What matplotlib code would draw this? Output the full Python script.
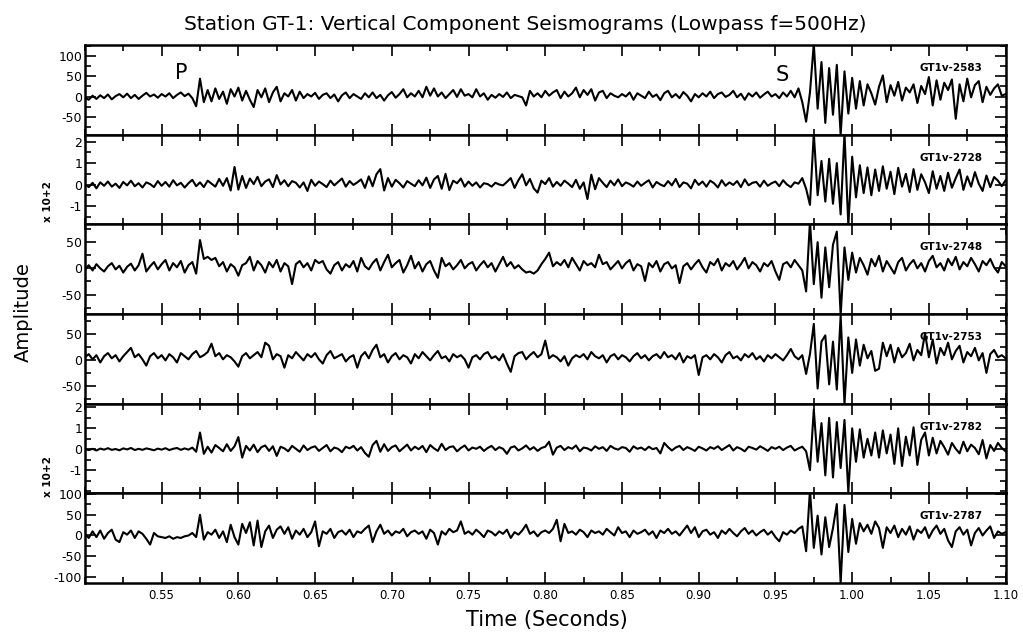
import numpy as np
import matplotlib.pyplot as plt
from matplotlib.ticker import MultipleLocator

# vertical component traces, sampled every 2.5 ms starting at 0.50 s (counts)
t_start = 0.50
dt = 0.0025

gt1v_2583 = [
    -3, -8, 2, -6, 3, -4, 5, -7, 1, 6, -2, 7, -4, 4, -6, 2, 9, 0, 5, -3,
    6, 0, 8, -4, 4, 10, 1, 7, -4, -24, 44, -14, 16, -12, 20, -6, 12, -18, 18, 0,
    22, -10, 14, -8, -26, 16, -2, 20, -14, 10, 24, -12, 8, 0, 16, -10, 12, -4, 6, 0,
    9, -6, 4, 8, -4, 5, -12, 3, 10, -4, 6, 0, -6, 8, -2, 10, -4, 4, -10, 3,
    11, -3, 6, 18, -2, 8, 0, 14, -2, 24, 2, 20, 0, 10, -4, 6, 16, -1, 18, 2,
    6, -2, 18, 0, 8, -8, 4, -3, 6, -1, 10, -4, 4, 1, -2, -22, 14, 0, 8, -2,
    14, 2, 10, 16, -4, 12, 0, 8, 22, -2, 16, 4, 18, -10, 10, 14, -4, 8, 2, -2,
    6, 0, 10, -8, 8, 2, -4, 12, -1, 5, -9, 8, 14, -2, 6, -4, 11, 2, -12, 6,
    -2, 8, 0, 12, -4, 6, 10, -1, 4, 14, -2, 7, -8, 8, 0, 10, -3, 5, 12, 0,
    6, -4, 10, 0, 14, -2, 20, -14, -62, 10, 130, -30, 85, -65, 70, -45, 78, -95, 62, -42,
    46, -30, 38, -22, 30, 8, -20, 24, 52, -14, 28, 2, 36, -10, 22, 10, 30, -16, 26, 6,
    48, -22, 40, -8, 34, 16, 42, -55, 30, -12, 44, -2, 28, 38, -14, 24, 4, 20, 30, 2,
    6,
]

gt1v_2728 = [
    0, -12, 8, -18, 10, -6, 14, -10, 4, -16, 12, -4, 18, -8, 6, -14, 10, 2, -12, 16,
    -6, 12, -10, 20, -4, 8, -14, 6, 22, -8, 10, -12, 18, 4, -10, 26, -6, 30, -28, 82,
    -24, 40, -16, 28, 2, 36, -8, 14, 24, -12, 44, 0, 20, -8, 16, 8, -14, 10, -30, 22,
    -6, 14, 2, -12, 18, -4, 12, 28, -10, 16, -2, 10, 24, -16, 38, -8, 48, 72, -28, 30,
    -10, 22, 6, -14, 16, 4, -8, 20, -4, 32, -16, 24, 40, -20, 50, -26, 18, 6, 28, -10,
    14, -6, 10, -14, 6, 2, -10, 8, 0, -4, 12, 30, -16, 20, 48, -4, 26, -18, -38, 18,
    2, 30, -10, 12, -6, 18, 4, -12, 22, -20, 10, -68, 46, -22, 30, 8, -12, 18, -4, 24,
    -8, 10, 2, -10, 14, -6, 8, 20, -14, 12, 0, -8, 16, -4, 26, -12, 10, 4, -18, 22,
    -2, 14, -10, 18, 6, -14, 20, -6, 10, -2, 16, -12, 24, -4, 8, 12, -10, 18, -6, 6,
    14, -8, 20, 0, -12, 10, 4, 30, -20, -95, 240, -50, 110, -80, 120, -90, 100, -140, 240, -190,
    130, -60, 90, -40, 80, -50, 70, -30, 85, -20, 60, -45, 78, -10, 50, -35, 72, -25, 48, 10,
    -40, 62, -20, 40, -30, 55, -15, 30, 70, -25, 38, -10, 58, 4, -30, 42, -12, 35, 18, -8,
    20,
]

gt1v_2748 = [
    -2, 6, -4, 8, 0, -6, 4, 10, -2, 5, -8, 3, 9, -4, 6, 28, -6, 4, 12, -2,
    8, 16, -4, 10, 2, 14, -8, 6, 12, -10, 54, 18, 22, 16, 20, 4, 12, -6, 8, 2,
    -14, 6, 10, 22, -4, 14, 6, -8, 12, 2, 16, -6, 10, 4, -30, 8, 14, 2, 10, -4,
    16, 10, 14, -2, -10, 6, 12, -4, 8, 2, 14, -6, 20, 4, -2, 10, 18, -4, 12, 26,
    2, 10, 16, -8, 6, 24, 0, 12, -6, 8, 14, -4, -18, 20, 4, 10, -2, 6, 16, 0,
    8, 12, -4, 6, 14, 2, 10, -6, 8, 22, 4, 12, 0, 6, -2, -8, -6, -10, -4, 8,
    18, 30, 4, 12, 6, 16, 2, 20, 8, -4, 14, 6, 10, 2, 26, 8, 12, -2, 6, 14,
    0, 10, 16, -4, 8, 4, -24, 10, 2, 14, -6, 8, 12, 0, 6, -28, 4, 10, -2, 8,
    16, 2, -8, 12, 6, 18, -4, 10, 4, 14, -2, 8, 20, 0, 12, 6, -6, 10, 4, 14,
    -6, -22, 8, 12, 2, 16, 6, -4, -44, 90, -30, 50, -56, 40, -36, 45, 70, -90, 40, -22,
    30, -8, 20, 6, -12, 18, 4, 24, -6, 14, 2, -10, 12, 20, -4, 8, 16, 0, 10, -6,
    14, 24, 2, 10, -4, 18, 6, 22, -2, 12, 4, 20, 8, -6, 14, 6, 18, 2, -8, 12,
    4,
]

gt1v_2753 = [
    6, 12, 2, 10, -4, 8, 14, 4, 10, -2, 8, 16, 24, 6, 12, 2, -10, 8, 14, 4,
    10, 0, 12, 6, -4, 14, 8, 2, 12, 18, 6, 10, 16, 32, 8, 14, 2, 10, 6, -2,
    -12, 8, 14, 4, 10, 16, 6, 34, 28, 2, 12, 8, -14, 10, 4, 16, 8, 0, 12, 6,
    14, 2, -6, 10, 18, 4, 8, 12, -2, 6, 10, -14, 8, 16, 4, 20, 30, 6, 12, -4,
    8, 14, 2, 10, 6, -6, 12, 4, 16, 8, 0, 10, 18, 4, 8, -2, 12, 6, 10, 2,
    -14, 6, 10, 2, 12, 16, 4, 8, 0, 12, -6, -22, 8, 14, 16, 2, 10, 16, 6, 12,
    38, 4, 10, 6, -2, 8, -10, 4, 10, 6, 12, 2, 16, 8, 4, 10, -4, 8, 12, 2,
    10, 6, -2, 8, 14, 4, 10, 0, 8, 12, 4, 16, 6, 10, 2, 14, -4, 8, 4, 10,
    -28, 6, 10, 2, 12, 6, -4, 10, 16, 4, 8, 0, 12, 6, 14, 2, 8, -2, 10, 4,
    12, 6, 0, 10, 22, 8, 2, 10, -26, 12, 70, -54, 36, 48, -46, 36, -56, 86, -84, 44,
    -24, 40, -10, 30, 4, 18, -20, -16, 34, 8, 30, -4, 24, 6, 14, 32, 0, 20, 10, 52,
    6, 40, -6, 24, 10, 34, 2, 18, 28, -4, 16, 8, 24, 0, 14, -24, 12, 20, 6, 10,
    4,
]

gt1v_2782 = [
    0, -4, 2, -6, 3, -2, 5, -3, 1, -5, 4, -1, 6, -4, 2, -3, 4, 0, -5, 3,
    -2, 5, -4, 2, 6, -3, 4, -2, 8, -12, 80, -22, 12, -16, 20, 6, -10, 24, -8, 14,
    58, -40, 16, -6, 22, -14, 10, 18, -8, 14, -32, 12, 4, -10, 16, 2, -12, 18, -4, 8,
    14, -8, 6, 20, -10, 8, 2, -14, 12, 4, 16, -6, 10, -18, -36, 20, 40, -12, 24, -8,
    10, 18, -10, 6, 22, -6, 12, 0, 16, -14, 20, 4, -8, 26, -4, 10, 14, -10, 6, 18,
    -6, 8, 2, 12, -8, 6, 16, -4, 10, 2, -22, 8, 14, -6, 4, 18, -2, 10, -8, 6,
    12, 36, -26, 8, 16, -4, 10, 2, 18, -10, 8, 4, -6, 14, 2, 10, -8, 16, 4, -2,
    10, 6, -12, 14, 2, 8, -4, 12, 0, 6, -20, 30, 10, -6, 8, 16, -4, 10, 2, -8,
    12, 4, -6, 10, 2, 14, -4, 8, 20, -6, 10, 2, -10, 12, 6, -2, 14, 4, -8, 10,
    2, 12, -4, 8, 16, -6, 4, 12, -10, -100, 190, -60, 125, -125, 150, -135, 130, -90, 140, -205,
    100, -60, 95, -40, 50, -30, 80, -40, 90, -20, 70, -70, 100, -80, 60, -30, 105, -75, 45, 80,
    -30, 55, -20, 40, 10, -26, 30, 2, -20, 36, -10, 22, 6, -24, 44, -44, 20, -8, 30, 6,
    -10,
]

gt1v_2787 = [
    4, -6, 10, -4, 12, -8, 6, 14, -10, -16, 8, 2, 12, -6, 10, 4, -8, -22, 6, -2,
    -4, -6, -2, -8, -4, -6, -2, 0, 6, -4, 50, -10, 8, 2, 14, -6, 10, -16, 26, -4,
    -22, 28, 6, 32, -24, 36, -28, 10, 24, -6, 14, 22, 4, 20, -8, 12, 2, 16, -4, 8,
    34, -26, 10, 4, 16, -6, 8, 12, 2, 14, -4, 10, 6, 16, 24, -16, 10, 26, 4, 12,
    0, 10, 6, 16, -2, 8, 12, 4, 10, -8, 14, 6, -22, 10, 2, 16, 8, 12, 34, 4,
    10, 2, 14, 6, -4, 12, 8, 0, 10, 4, 14, -6, 8, 2, 12, 26, 4, 10, -2, 8,
    12, 6, 16, 38, -14, 28, 6, 10, 2, 14, 8, -4, 12, 6, 10, 2, 16, 8, 0, 20,
    6, 10, -4, 12, 4, 8, 14, 2, 10, -6, 12, 6, 16, 4, 10, 0, 12, 24, 6, 20,
    -4, 10, 14, 2, 8, -6, 12, 4, 16, 6, -2, 10, 18, 4, 12, 0, 8, 14, 2, 10,
    -4, -14, 8, 2, 12, 6, 16, 22, -38, 110, -30, 48, -46, 44, -28, 18, 76, -115, 74, -40,
    40, -20, 30, 10, 26, 4, 34, 18, -30, 20, 6, 24, -4, 16, 2, 22, -10, 14, 6, 20,
    -6, 12, 24, 4, 16, -12, -28, 10, 20, 2, 14, -24, 6, 18, 0, 12, 22, -6, 10, 4,
    8,
]

stations = ['GT1v-2583', 'GT1v-2728', 'GT1v-2748', 'GT1v-2753', 'GT1v-2782', 'GT1v-2787']
traces = [gt1v_2583, gt1v_2728, gt1v_2748, gt1v_2753, gt1v_2782, gt1v_2787]
scales = [1, 100, 1, 1, 100, 1]   # 100 -> axis labelled "x 10+2"

ylims = [(-94, 127), (-1.86, 2.33), (-87, 84), (-83, 89), (-2.11, 2.18), (-115, 102)]
yticks = [[100, 50, 0, -50], [2, 1, 0, -1], [50, 0, -50], [50, 0, -50],
          [2, 1, 0, -1], [100, 50, 0, -50, -100]]
ystep_minor = [25, 0.5, 25, 25, 0.5, 25]
scale_label_y = [None, 0.25, None, None, 0.19, None]

xticks = [0.55, 0.60, 0.65, 0.70, 0.75, 0.80, 0.85, 0.90, 0.95, 1.00, 1.05, 1.10]

fig, axes = plt.subplots(6, 1, figsize=(10.23, 6.38), dpi=100, sharex=True)
fig.subplots_adjust(left=0.083, right=0.983, top=0.9295, bottom=0.0862, hspace=0)

for k, ax in enumerate(axes):
    amp = np.array(traces[k], dtype=float) / scales[k]
    t = t_start + dt * np.arange(len(amp))
    ax.plot(t, amp, color='black', lw=1.5)

    ax.set_xlim(0.50, 1.10)
    ax.set_ylim(*ylims[k])
    ax.set_yticks(yticks[k])
    ax.set_yticklabels([str(v) for v in yticks[k]], fontsize=9)
    ax.yaxis.set_minor_locator(MultipleLocator(ystep_minor[k]))
    ax.xaxis.set_major_locator(MultipleLocator(0.05))
    ax.xaxis.set_minor_locator(MultipleLocator(0.025))
    ax.tick_params(which='both', direction='in', top=True, right=True,
                   width=1.2, pad=2)
    ax.tick_params(which='major', length=8)
    ax.tick_params(which='minor', length=4)
    for sp in ax.spines.values():
        sp.set_linewidth(1.8)

    ax.text(0.975, 0.745, stations[k], transform=ax.transAxes,
            ha='right', va='center', fontsize=7.5, fontweight='bold')
    if scale_label_y[k] is not None:
        ax.text(-0.040, scale_label_y[k], 'x 10+2', transform=ax.transAxes,
                rotation=90, ha='center', va='center', fontsize=7.5,
                fontweight='bold')

axes[-1].set_xticks(xticks)
axes[-1].set_xticklabels(['%.2f' % v for v in xticks], fontsize=8.5)
axes[-1].tick_params(axis='x', pad=4)

axes[0].text(0.5625, 57, 'P', ha='center', va='center', fontsize=15)
axes[0].text(0.9545, 52, 'S', ha='center', va='center', fontsize=15)

fig.text(0.513, 0.962, 'Station GT-1: Vertical Component Seismograms (Lowpass f=500Hz)',
         ha='center', va='center', fontsize=14.5)
fig.text(0.0225, 0.511, 'Amplitude', rotation=90, ha='center', va='center', fontsize=14)
fig.text(0.535, 0.028, 'Time (Seconds)', ha='center', va='center', fontsize=15)

fig.savefig('out.png', dpi=100)
